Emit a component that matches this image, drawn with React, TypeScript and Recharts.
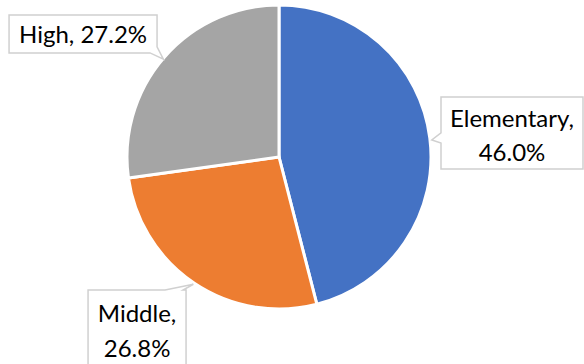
import React from 'react';
import { PieChart, Pie, Cell } from 'recharts';

const categories = ['Elementary', 'Middle', 'High'];
const shares = [46.0, 26.8, 27.2];
const colors = ['#4472C4', '#ED7D31', '#A5A5A5'];

const data = categories.map((c, i) => ({ name: c, value: shares[i] }));

const RADIAN = Math.PI / 180;
const FONT = 'Lato, "Open Sans", sans-serif';
const FONT_SIZE = 24;

type Layout = {
  dx: number; dy: number; w: number; h: number;
  tail: 'left' | 'top' | 'corner';
  b1: number; b2: number; tx: number; ty: number;
  lines: number; first: number; gap: number;
};

const layouts: Record<string, Layout> = {
  Elementary: { dx: 11.2, dy: -41, w: 142, h: 72, tail: 'left', b1: 36, b2: 46, tx: 2, ty: 2, lines: 2, first: 30, gap: 34.5 },
  Middle: { dx: -106.3, dy: 6.8, w: 98, h: 80, tail: 'top', b1: 77, b2: 95, tx: -1, ty: 1, lines: 2, first: 32, gap: 35 },
  High: { dx: -155.3, dy: -42.3, w: 148, h: 38, tail: 'corner', b1: 141, b2: 32, tx: -1, ty: 2, lines: 1, first: 28, gap: 0 },
};

function calloutPath(x: number, y: number, L: Layout, tipX: number, tipY: number) {
  const { w, h, b1, b2 } = L;
  const pts: [number, number][] = [];
  if (L.tail === 'left') {
    pts.push([x, y], [x + w, y], [x + w, y + h], [x, y + h], [x, y + b2], [tipX, tipY], [x, y + b1]);
  } else if (L.tail === 'top') {
    pts.push([x, y], [x + b1, y], [tipX, tipY], [x + b2, y], [x + w, y], [x + w, y + h], [x, y + h]);
  } else {
    pts.push([x, y], [x + w, y], [x + w, y + b2], [tipX, tipY], [x + b1, y + h], [x, y + h]);
  }
  return 'M' + pts.map((p) => `${p[0]},${p[1]}`).join(' L') + ' Z';
}

function renderCallout(props: any) {
  const { cx, cy, midAngle, outerRadius, index, value } = props;
  const name = categories[index];
  const L = layouts[name];
  const ax = cx + outerRadius * Math.cos(-midAngle * RADIAN);
  const ay = cy + outerRadius * Math.sin(-midAngle * RADIAN);
  const x = ax + L.dx;
  const y = ay + L.dy;
  const text = `${name}, ${Number(value).toFixed(1)}%`;
  const lines = L.lines === 1 ? [text] : [`${name},`, `${Number(value).toFixed(1)}%`];
  return (
    <g key={`callout-${index}`}>
      <path d={calloutPath(x, y, L, ax + L.tx, ay + L.ty)} fill="#ffffff" stroke="#D0D0D0" strokeWidth={1.5} />
      {lines.map((t, i) => (
        <text
          key={i}
          x={x + L.w / 2}
          y={y + L.first + i * L.gap}
          textAnchor="middle"
          fontFamily={FONT}
          fontSize={FONT_SIZE}
          fill="#000000"
        >
          {t}
        </text>
      ))}
    </g>
  );
}

export default function App() {
  return (
    <div style={{ position: 'absolute', left: 0, top: 0, width: 584, height: 364, background: '#ffffff', overflow: 'hidden' }}>
      <PieChart width={584} height={364} margin={{ top: 0, right: 0, bottom: 0, left: 0 }}>
        <Pie
          data={data}
          dataKey="value"
          nameKey="name"
          cx={279}
          cy={157}
          outerRadius={152}
          startAngle={90}
          endAngle={-270}
          stroke="#ffffff"
          strokeWidth={3}
          isAnimationActive={false}
          label={renderCallout}
          labelLine={false}
        >
          {data.map((d, i) => (
            <Cell key={d.name} fill={colors[i]} />
          ))}
        </Pie>
      </PieChart>
    </div>
  );
}
